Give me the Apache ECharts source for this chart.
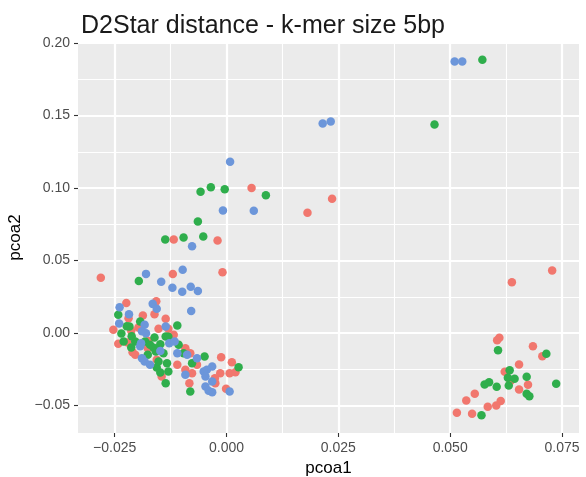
<!DOCTYPE html>
<html>
<head>
<meta charset="utf-8">
<script src="https://cdn.jsdelivr.net/npm/echarts@6/dist/echarts.min.js"></script>
<style>
  html, body { margin: 0; padding: 0; background: #ffffff; }
  #chart { width: 586px; height: 477px; }
</style>
</head>
<body>
<div id="chart"></div>
<script>
// PCoA coordinates [pcoa1, pcoa2] per group
const redPoints = [
  [0.0056, 0.1001], [0.0181, 0.0829], [0.0236, 0.0926], [-0.0118, 0.0645], [-0.0020, 0.0638],
  [-0.0281, 0.0381], [-0.0120, 0.0407], [-0.0009, 0.0419],
  [-0.0224, 0.0207], [-0.0157, 0.0219], [-0.0219, 0.0102], [-0.0187, 0.0121], [-0.0161, 0.0130],
  [-0.0136, 0.0098], [-0.0253, 0.0022], [-0.0213, 0.0015], [-0.0197, 0.0038], [-0.0152, 0.0029],
  [-0.0130, 0.0029], [-0.0118, -0.0012], [-0.0242, -0.0074], [-0.0221, -0.0066], [-0.0210, -0.0132],
  [-0.0204, -0.0150], [-0.0176, -0.0105], [-0.0156, -0.0185], [-0.0145, -0.0300], [-0.0092, -0.0105],
  [-0.0081, -0.0139], [-0.0066, -0.0219], [-0.0110, -0.0219], [-0.0092, -0.0254], [-0.0077, -0.0277],
  [-0.0083, -0.0346], [-0.0012, -0.0167], [0.0012, -0.0201], [0.0007, -0.0277], [0.0020, -0.0270],
  [-0.0014, -0.0277], [-0.0026, -0.0312], [-0.0025, -0.0346], [-0.0001, -0.0385], [-0.0175, -0.0056],
  [0.0610, -0.0033], [0.0605, -0.0050], [0.0685, -0.0091], [0.0706, -0.0160], [0.0654, -0.0217],
  [0.0622, -0.0268], [0.0635, -0.0332], [0.0654, -0.0390], [0.0674, -0.0357], [0.0555, -0.0419],
  [0.0536, -0.0466], [0.0613, -0.0470], [0.0603, -0.0500], [0.0584, -0.0509], [0.0515, -0.0550],
  [0.0549, -0.0557], [0.0728, 0.0431], [0.0638, 0.0350]
];
const greenPoints = [
  [0.0572, 0.1886], [0.0465, 0.1438], [0.0088, 0.0950], [-0.0058, 0.0974], [-0.0035, 0.1006],
  [-0.0004, 0.0992], [-0.0064, 0.0769], [-0.0137, 0.0645], [-0.0096, 0.0659], [-0.0052, 0.0666],
  [-0.0196, 0.0359],
  [-0.0242, 0.0126], [-0.0235, -0.0003], [-0.0217, 0.0045], [-0.0193, 0.0079], [-0.0110, 0.0052],
  [-0.0161, -0.0031], [-0.0230, -0.0059], [-0.0204, -0.0059], [-0.0182, -0.0059], [-0.0171, -0.0081],
  [-0.0148, -0.0077], [-0.0136, -0.0024], [-0.0107, -0.0081], [-0.0213, -0.0100], [-0.0158, -0.0128],
  [-0.0176, -0.0150], [-0.0141, -0.0139], [-0.0133, -0.0208], [-0.0156, -0.0238], [-0.0148, -0.0272],
  [-0.0130, -0.0266], [-0.0136, -0.0346], [-0.0152, -0.0197], [-0.0096, -0.0139], [-0.0077, -0.0208],
  [-0.0081, -0.0403], [-0.0049, -0.0162], [0.0027, -0.0236], [-0.0223, 0.0047], [-0.0212, -0.0022],
  [-0.0163, -0.0102], [-0.0130, -0.0026],
  [0.0607, -0.0119], [0.0715, -0.0143], [0.0633, -0.0257], [0.0629, -0.0309], [0.0644, -0.0316],
  [0.0671, -0.0302], [0.0587, -0.0339], [0.0577, -0.0355], [0.0604, -0.0371], [0.0631, -0.0362],
  [0.0671, -0.0419], [0.0677, -0.0436], [0.0737, -0.0350], [0.0570, -0.0567]
];
const bluePoints = [
  [0.0510, 0.1874], [0.0527, 0.1874], [0.0215, 0.1445], [0.0233, 0.1459], [0.0061, 0.0843],
  [0.0008, 0.1181], [-0.0008, 0.0845], [-0.0077, 0.0599], [-0.0180, 0.0408], [-0.0146, 0.0353],
  [-0.0098, 0.0437], [-0.0121, 0.0312], [-0.0099, 0.0285], [-0.0080, 0.0319], [-0.0064, 0.0290],
  [-0.0079, 0.0152],
  [-0.0239, 0.0178], [-0.0165, 0.0201], [-0.0156, 0.0167], [-0.0218, 0.0130], [-0.0240, 0.0066],
  [-0.0183, 0.0057], [-0.0136, 0.0045], [-0.0180, -0.0001], [-0.0191, -0.0070], [-0.0128, -0.0070],
  [-0.0116, -0.0059], [-0.0189, -0.0174], [-0.0183, -0.0197], [-0.0171, -0.0219], [-0.0088, -0.0150],
  [-0.0110, -0.0139], [-0.0066, -0.0174], [-0.0092, -0.0288], [-0.0032, -0.0231], [-0.0044, -0.0254],
  [-0.0051, -0.0266], [-0.0047, -0.0300], [-0.0032, -0.0334], [-0.0047, -0.0369], [-0.0040, -0.0399],
  [-0.0032, -0.0408], [0.0007, -0.0403], [-0.0189, 0.0012], [-0.0193, -0.0091], [-0.0148, -0.0125]
];

// Axis breaks and their labels
const xTicks = [-0.025, 0, 0.025, 0.05, 0.075];
const xTickLabels = ['\u22120.025', '0.000', '0.025', '0.050', '0.075'];
const xMinorTicks = [-0.0125, 0.0125, 0.0375, 0.0625];
const yTicks = [-0.05, 0, 0.05, 0.10, 0.15, 0.20];
const yTickLabels = ['\u22120.05', '0.00', '0.05', '0.10', '0.15', '0.20'];
const yMinorTicks = [-0.025, 0.025, 0.075, 0.125, 0.175];

const xRange = [-0.0332, 0.0788];
const yRange = [-0.069, 0.2008];

const FONT = '"Liberation Sans", Arial, Helvetica, sans-serif';
const palette = { red: '#F1776E', green: '#2FAE4C', blue: '#6C96DA' };

function labelFor(ticks, labels) {
  return function (v) {
    for (let i = 0; i < ticks.length; i++) {
      if (Math.abs(ticks[i] - v) < 1e-9) return labels[i];
    }
    return '';
  };
}

function majorAxis(ticks, labels, range, name, isX) {
  return {
    type: 'value',
    min: range[0],
    max: range[1],
    name: name,
    nameLocation: 'middle',
    nameGap: isX ? 21 : 45,
    nameTextStyle: { fontFamily: FONT, fontSize: 17, color: '#000000' },
    axisLine: { show: false, onZero: false },
    axisTick: {
      show: true, inside: false, length: 4, customValues: ticks,
      lineStyle: { color: '#333333', width: 1.1 }
    },
    axisLabel: {
      show: true, margin: 8, customValues: ticks,
      formatter: labelFor(ticks, labels),
      fontFamily: FONT, fontSize: 14, color: '#4D4D4D'
    },
    splitLine: { show: true, lineStyle: { color: '#FFFFFF', width: 2.2 } },
    z: 2
  };
}

function minorAxis(ticks, range) {
  return {
    type: 'value',
    min: range[0],
    max: range[1],
    axisLine: { show: false, onZero: false },
    axisTick: { show: false, customValues: ticks },
    axisLabel: { show: false, customValues: ticks },
    splitLine: { show: true, lineStyle: { color: '#FFFFFF', width: 1.1 } },
    z: 1
  };
}

const chart = echarts.init(document.getElementById('chart'), null, { renderer: 'canvas' });

const option = {
  animation: false,
  backgroundColor: '#FFFFFF',
  title: {
    text: 'D2Star distance - k-mer size 5bp',
    left: 76,
    top: 9,
    textStyle: { fontFamily: FONT, fontSize: 25, fontWeight: 'normal', color: '#1A1A1A' }
  },
  grid: {
    left: 78, right: 7, top: 42, bottom: 44,
    outerBoundsMode: 'none',
    containLabel: false,
    show: true, backgroundColor: '#EBEBEB', borderWidth: 0
  },
  xAxis: [
    majorAxis(xTicks, xTickLabels, xRange, 'pcoa1', true),
    minorAxis(xMinorTicks, xRange)
  ],
  yAxis: [
    majorAxis(yTicks, yTickLabels, yRange, 'pcoa2', false),
    minorAxis(yMinorTicks, yRange)
  ],
  series: [
    { name: 'red', type: 'scatter', data: redPoints, symbolSize: 8.5,
      itemStyle: { color: palette.red, opacity: 1 } },
    { name: 'green', type: 'scatter', data: greenPoints, symbolSize: 8.5,
      itemStyle: { color: palette.green, opacity: 1 } },
    { name: 'blue', type: 'scatter', data: bluePoints, symbolSize: 8.5,
      itemStyle: { color: palette.blue, opacity: 1 } }
  ]
};

chart.setOption(option);
</script>
</body>
</html>
